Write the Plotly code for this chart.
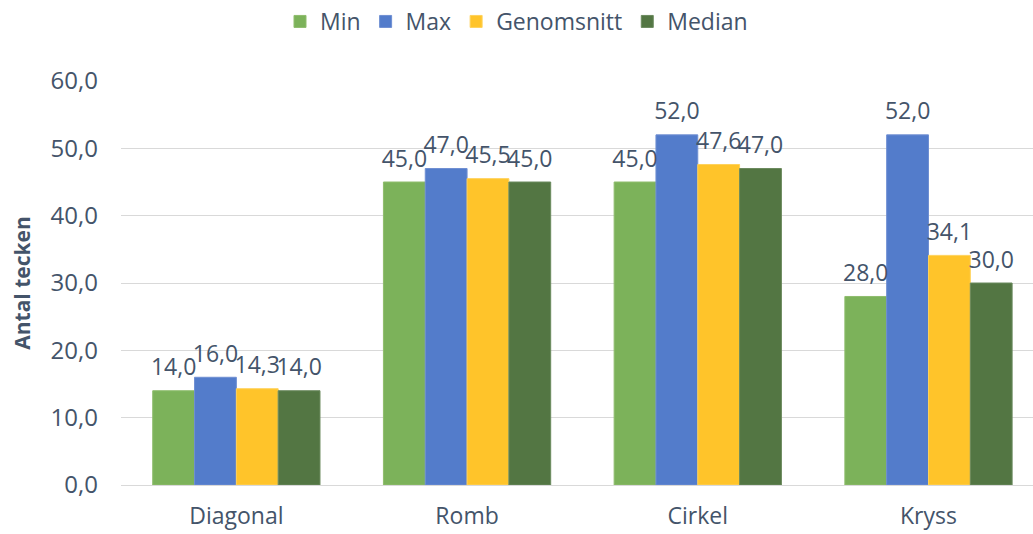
import plotly.graph_objects as go

categories = ["Diagonal", "Romb", "Cirkel", "Kryss"]
min_vals = [14.0, 45.0, 45.0, 28.0]
max_vals = [16.0, 47.0, 52.0, 52.0]
mean_vals = [14.3, 45.5, 47.6, 34.1]
median_vals = [14.0, 45.0, 47.0, 30.0]
y_ticks = [0, 10, 20, 30, 40, 50, 60]

series = [
    ("Min", min_vals, "#7cb25a", "#8fbd6d"),
    ("Max", max_vals, "#537ccb", "#6f8fd2"),
    ("Genomsnitt", mean_vals, "#ffc42a", "#ffd25c"),
    ("Median", median_vals, "#537643", "#6b8a5e"),
]

text_color = "#44546a"
font_family = "Open Sans, Noto Sans, sans-serif"

fig = go.Figure()
for name, vals, color, edge in series:
    fig.add_trace(go.Bar(
        name=name,
        x=categories,
        y=vals,
        marker=dict(color=color, line=dict(color=edge, width=1)),
        cliponaxis=False,
    ))

# value labels, grouped the same way as the bars
for name, vals, color, edge in series:
    fig.add_trace(go.Scatter(
        x=categories,
        y=vals,
        mode="markers+text",
        marker=dict(size=14, opacity=0),
        texttemplate="%{y:.1f}",
        textposition="top center",
        textfont=dict(size=23, color=text_color, family=font_family),
        showlegend=False,
        hoverinfo="skip",
        cliponaxis=False,
    ))

fig.update_layout(
    width=1033,
    height=534,
    margin=dict(l=121, r=0, t=81, b=49),
    paper_bgcolor="white",
    plot_bgcolor="white",
    separators=", ",
    barmode="group",
    bargap=0.275,
    bargroupgap=0,
    scattermode="group",
    scattergap=0.275,
    font=dict(family=font_family, color=text_color, size=22),
    legend=dict(
        orientation="h",
        x=0.5, xanchor="center", xref="container",
        y=1.0, yanchor="top",
        yref="container",
        font=dict(size=23, color=text_color),
        itemwidth=30,
        traceorder="normal",
    ),
    xaxis=dict(
        range=[-0.5, 3.453],
        showgrid=False,
        showline=True,
        linecolor="#d9d9d9",
        linewidth=1,
        ticks="",
        tickfont=dict(size=23, color=text_color),
        ticklabelstandoff=10,
    ),
    yaxis=dict(
        range=[0, 60],
        tickvals=y_ticks,
        tickformat=".1f",
        showgrid=True,
        gridcolor="#d9d9d9",
        gridwidth=1,
        zeroline=False,
        tickfont=dict(size=24, color=text_color),
        ticklabelstandoff=22,
        title=dict(text="<b>Antal tecken</b>", font=dict(size=21, color=text_color), standoff=14),
    ),
)

fig.write_html("out.html")
